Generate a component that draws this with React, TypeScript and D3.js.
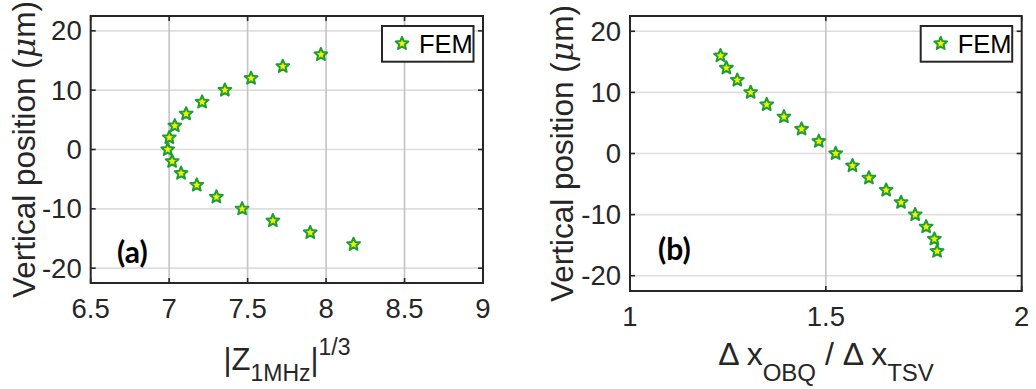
import React from 'react';
import * as d3 from 'd3';

const yPositions = [16, 14, 12, 10, 8, 6, 4, 2, 0, -2, -4, -6, -8, -10, -12, -14, -16];
const zValues = [7.967, 7.724, 7.522, 7.355, 7.21, 7.108, 7.036, 7.001, 6.991, 7.019, 7.076, 7.176, 7.301, 7.465, 7.661, 7.899, 8.175];
const ratioValues = [1.231, 1.246, 1.274, 1.308, 1.349, 1.393, 1.438, 1.482, 1.525, 1.568, 1.61, 1.654, 1.692, 1.728, 1.756, 1.777, 1.784];
const yTicks = [-20, -10, 0, 10, 20];
const xTicksA = [6.5, 7, 7.5, 8, 8.5, 9];
const xTicksB = [1, 1.5, 2];
const legendLabel = 'FEM';

const AX = '#262626';
const FONT = "'Liberation Sans', Arial, sans-serif";

// pentagram symbol with a slightly fuller body, like MATLAB's 'p' marker
const pentagram: d3.SymbolType = {
  draw(context, size) {
    const R = Math.sqrt(size) * 0.95;
    const r = R * 0.45;
    for (let i = 0; i < 10; i++) {
      const rad = i % 2 === 0 ? R : r;
      const a = -Math.PI / 2 + (i * Math.PI) / 5;
      const px = rad * Math.cos(a);
      const py = rad * Math.sin(a);
      if (i === 0) context.moveTo(px, py); else context.lineTo(px, py);
    }
    context.closePath();
  },
};
const starPath = d3.symbol().type(pentagram).size(50)() as string;

type PanelProps = {
  x0: number; x1: number; y0: number; y1: number;
  xDomain: [number, number]; xTicks: number[];
  xs: number[]; ys: number[];
  tag: string; tagX: number; tagY: number;
  yLabelX: number;
  xLabel: React.ReactNode;
};

function Panel(p: PanelProps) {
  const x = d3.scaleLinear().domain(p.xDomain).range([p.x0, p.x1]);
  const y = d3.scaleLinear().domain([-22.5, 22.5]).range([p.y1, p.y0]);
  const tl = 5;
  const legX1 = p.x1 - 9.5;
  const legX0 = legX1 - 91.5;
  return (
    <g>
      {yTicks.map(t => (
        <line key={'gy' + t} x1={p.x0} x2={p.x1} y1={y(t)} y2={y(t)} stroke="#dedede" strokeWidth={1.6} />
      ))}
      {p.xTicks.filter(t => t !== p.xDomain[0] && t !== p.xDomain[1]).map(t => (
        <line key={'gx' + t} x1={x(t)} x2={x(t)} y1={p.y0} y2={p.y1} stroke="#c4c4c4" strokeWidth={1.6} />
      ))}
      {yTicks.map(t => (
        <g key={'ty' + t}>
          <line x1={p.x0} x2={p.x0 + tl} y1={y(t)} y2={y(t)} stroke={AX} strokeWidth={1.6} />
          <line x1={p.x1} x2={p.x1 - tl} y1={y(t)} y2={y(t)} stroke={AX} strokeWidth={1.6} />
          <text x={p.x0 - 9} y={y(t) + 9.5} textAnchor="end" fontFamily={FONT} fontSize={27.5} fill={AX}>{String(t)}</text>
        </g>
      ))}
      {p.xTicks.map(t => (
        <g key={'tx' + t}>
          <line x1={x(t)} x2={x(t)} y1={p.y1} y2={p.y1 - tl} stroke={AX} strokeWidth={1.6} />
          <line x1={x(t)} x2={x(t)} y1={p.y0} y2={p.y0 + tl} stroke={AX} strokeWidth={1.6} />
          <text x={x(t)} y={p.y1 + 35} textAnchor="middle" fontFamily={FONT} fontSize={27.5} fill={AX}>{String(t)}</text>
        </g>
      ))}
      <rect x={p.x0} y={p.y0} width={p.x1 - p.x0} height={p.y1 - p.y0} fill="none" stroke={AX} strokeWidth={2} />
      {p.xs.map((v, i) => (
        <path key={'m' + i} d={starPath} transform={`translate(${x(v)},${y(p.ys[i])})`} fill="#f2ee00" stroke="#1e9e32" strokeWidth={2} strokeLinejoin="round" />
      ))}
      <rect x={legX0} y={26} width={legX1 - legX0} height={35.7} fill="#fff" stroke={AX} strokeWidth={2} />
      <path d={starPath} transform={`translate(${legX0 + 20},${43.5})`} fill="#f2ee00" stroke="#1e9e32" strokeWidth={2} strokeLinejoin="round" />
      <text x={legX0 + 37} y={52.5} fontFamily={FONT} fontSize={25.5} fill="#000">{legendLabel}</text>
      <text x={p.tagX} y={p.tagY} fontFamily="Lato, 'Open Sans', sans-serif" fontWeight="bold" fontSize={30} fill="#000">{p.tag}</text>
      <text transform={`translate(${p.yLabelX},${(p.y0 + p.y1) / 2}) rotate(-90)`} textAnchor="middle" fontFamily={FONT} fontSize={31.5} fill={AX}>
        Vertical position (<tspan fontStyle="italic" fontFamily="'DejaVu Serif', serif">μ</tspan>m)
      </text>
      {p.xLabel}
    </g>
  );
}

export default function App() {
  const xLabelA = (
    <text x={287} y={370} textAnchor="middle" fontFamily={FONT} fontSize={31} fill={AX}>
      |Z<tspan fontSize={23} dy={11}>1MHz</tspan><tspan dy={-11}>|</tspan><tspan fontSize={23} dy={-15}>1/3</tspan>
    </text>
  );
  const xLabelB = (
    <text x={826} y={365} textAnchor="middle" fontFamily={FONT} fontSize={32} fill={AX}>
      Δ x<tspan fontSize={24} dy={16}>OBQ</tspan><tspan dy={-16}> / Δ x</tspan><tspan fontSize={24} dy={16}>TSV</tspan>
    </text>
  );
  return (
    <svg width={1036} height={389} style={{ position: 'absolute', left: 0, top: 0, background: '#fff' }}>
      <rect width={1036} height={389} fill="#fff" />
      <Panel x0={90.7} x1={483} y0={16} y1={283} xDomain={[6.5, 9]} xTicks={xTicksA}
        xs={zValues} ys={yPositions} tag="(a)" tagX={117} tagY={263} yLabelX={35} xLabel={xLabelA} />
      <Panel x0={630} x1={1021.7} y0={16} y1={291} xDomain={[1, 2]} xTicks={xTicksB}
        xs={ratioValues} ys={yPositions} tag="(b)" tagX={658} tagY={260} yLabelX={573} xLabel={xLabelB} />
    </svg>
  );
}
